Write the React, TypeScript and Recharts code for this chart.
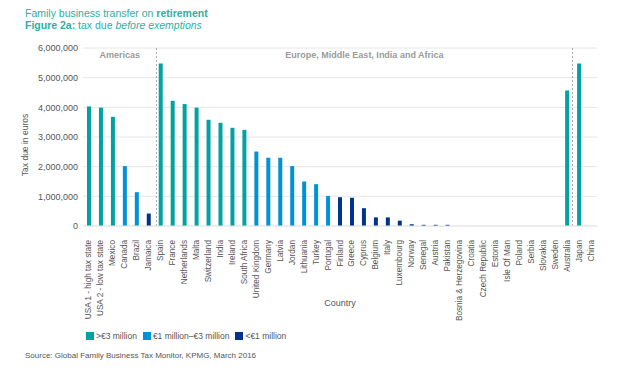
import React from 'react'
import {
  BarChart,
  Bar,
  Cell,
  XAxis,
  YAxis,
  CartesianGrid,
  ReferenceLine,
  ReferenceArea,
} from 'recharts'

const countries = [
  'USA 1 - high tax state', 'USA 2 - low tax state', 'Mexico', 'Canada', 'Brazil', 'Jamaica',
  'Spain', 'France', 'Netherlands', 'Malta', 'Switzerland', 'India', 'Ireland', 'South Africa',
  'United Kingdom', 'Germany', 'Latvia', 'Jordan', 'Lithuania', 'Turkey', 'Portugal', 'Finland',
  'Greece', 'Cyprus', 'Belgium', 'Italy', 'Luxembourg', 'Norway', 'Senegal', 'Austria', 'Pakistan',
  'Bosnia & Herzegovina', 'Croatia', 'Czech Republic', 'Estonia', 'Isle Of Man', 'Poland', 'Serbia',
  'Slovakia', 'Sweden',
  'Australia', 'Japan', 'China',
]

const taxDue = [
  4030000, 3990000, 3680000, 2020000, 1140000, 420000,
  5480000, 4220000, 4110000, 3990000, 3580000, 3480000, 3310000, 3240000,
  2510000, 2300000, 2300000, 2020000, 1500000, 1410000, 1010000, 970000,
  950000, 600000, 290000, 290000, 180000, 60000, 40000, 40000, 40000,
  0, 0, 0, 0, 0, 0, 0,
  0, 0,
  4570000, 5480000, 0,
]

const regionNames = ['Americas', 'Europe, Middle East, India and Africa', 'ASPAC']
const regionSizes = [6, 34, 3]

const yTicks = [0, 1000000, 2000000, 3000000, 4000000, 5000000, 6000000]

const legendLabels = ['>€3 million', '€1 million–€3 million', '<€1 million']
const tierColors = ['#00a3a1', '#0091da', '#00338d']

const tierOf = (v: number) => (v > 3000000 ? 0 : v >= 1000000 ? 1 : 2)

const data = countries.map((name, i) => ({ name, value: taxDue[i] }))

const regionBounds = regionSizes.map((_, i) => {
  const start = regionSizes.slice(0, i).reduce((a, b) => a + b, 0)
  return { start, end: start + regionSizes[i] }
})

const font = '"Liberation Sans", Arial, sans-serif'

const CountryTick = (props: any) => {
  const { x, y, payload } = props
  return (
    <text
      x={x}
      y={y + 6}
      transform={`rotate(-90 ${x} ${y + 6})`}
      textAnchor="end"
      dominantBaseline="central"
      fontSize={8.2}
      fill="#555"
      fontFamily={font}
    >
      {payload.value}
    </text>
  )
}

// y axis title sits a little below the plot's middle in the original
const YTitle = (props: any) => {
  const { viewBox } = props
  const cx = 25
  const cy = viewBox.y + viewBox.height / 2 + 8
  return (
    <text
      x={cx}
      y={cy}
      transform={`rotate(-90 ${cx} ${cy})`}
      textAnchor="middle"
      dominantBaseline="central"
      fontSize={8.5}
      fill="#555"
      fontFamily={font}
    >
      Tax due in euros
    </text>
  )
}

export default function App() {
  return (
    <div
      style={{
        position: 'absolute',
        left: 0,
        top: 0,
        width: 626,
        height: 375,
        background: '#fff',
        fontFamily: font,
        overflow: 'hidden',
      }}
    >
      <div style={{ position: 'absolute', left: 25, top: 7, fontSize: 10.5, color: '#2bb0a3' }}>
        Family business transfer on <b>retirement</b>
      </div>
      <div style={{ position: 'absolute', left: 25, top: 19, fontSize: 10.5, color: '#2bb0a3' }}>
        <b>Figure 2a:</b> tax due <i>before exemptions</i>
      </div>

      <div style={{ position: 'absolute', left: 0, top: 0 }}>
        <BarChart
          width={626}
          height={330}
          data={data}
          margin={{ top: 48, right: 29, left: 0, bottom: 0 }}
        >
          <CartesianGrid vertical={false} stroke="#e6e6e6" />
          <XAxis
            dataKey="name"
            interval={0}
            height={104}
            tick={<CountryTick />}
            tickLine={false}
            axisLine={{ stroke: '#e6e6e6' }}
            label={{
              value: 'Country',
              position: 'insideBottom',
              offset: 24,
              style: { fontSize: 9, fill: '#555', fontFamily: font },
            }}
          />
          <XAxis xAxisId="region" type="number" domain={[0, countries.length]} allowDataOverflow hide />
          <YAxis
            width={83}
            domain={[0, 6000000]}
            ticks={yTicks}
            tickFormatter={(v: number) => v.toLocaleString('en-US')}
            tickLine={false}
            axisLine={false}
            tickSize={0}
            tickMargin={5}
            tick={{ fontSize: 9, fill: '#555', fontFamily: font }}
            label={{ content: <YTitle /> }}
          />
          {regionBounds.map((r, i) => (
            <ReferenceArea
              key={regionNames[i]}
              xAxisId="region"
              x1={r.start}
              x2={r.end}
              fillOpacity={0}
              strokeOpacity={0}
              label={{
                value: regionNames[i],
                position: 'insideTop',
                offset: 4,
                style: { fontSize: 9, fontWeight: 'bold', fill: '#9a9a9a', fontFamily: font },
              }}
            />
          ))}
          {regionBounds.slice(1).map((r) => (
            <ReferenceLine
              key={r.start}
              xAxisId="region"
              x={r.start}
              stroke="#aaa"
              strokeDasharray="2 2"
            />
          ))}
          <Bar dataKey="value" barSize={4} isAnimationActive={false}>
            {data.map((d) => (
              <Cell key={d.name} fill={tierColors[tierOf(d.value)]} />
            ))}
          </Bar>
        </BarChart>
      </div>

      <div
        style={{
          position: 'absolute',
          left: 86,
          top: 331,
          display: 'flex',
          alignItems: 'center',
          fontSize: 8.5,
          color: '#555',
        }}
      >
        {legendLabels.map((l, i) => (
          <div key={l} style={{ display: 'flex', alignItems: 'center', marginRight: 6 }}>
            <span
              style={{ width: 8, height: 8, background: tierColors[i], display: 'inline-block', marginRight: 2 }}
            />
            {l}
          </div>
        ))}
      </div>
      <div style={{ position: 'absolute', left: 25, top: 351, fontSize: 8, color: '#555' }}>
        Source: Global Family Business Tax Monitor, KPMG, March 2016
      </div>
    </div>
  )
}
